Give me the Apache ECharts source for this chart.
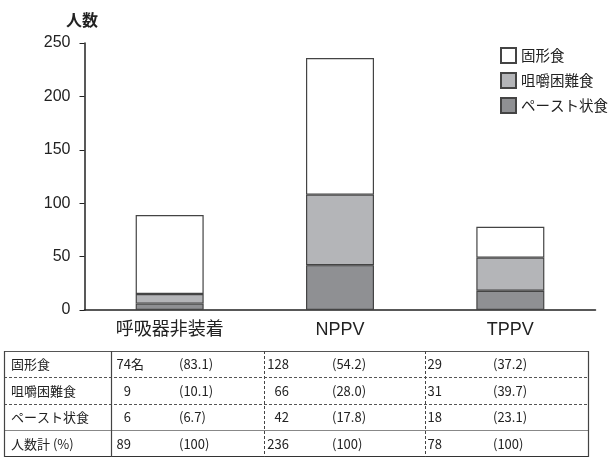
<!DOCTYPE html>
<html>
<head>
<meta charset="utf-8">
<script src="https://cdn.jsdelivr.net/npm/echarts@6/dist/echarts.min.js"></script>
<style>
  html, body { margin: 0; padding: 0; background: #fff; }
  #chart { width: 610px; height: 458px; }
</style>
</head>
<body>
<div id="chart"></div>
<script>
// 呼吸器の装着状況別にみた食形態の人数
const categories = ['呼吸器非装着', 'NPPV', 'TPPV'];
const yTicks = [0, 50, 100, 150, 200, 250];

const solidFood = [74, 128, 29];     // 固形食
const chewingDiet = [9, 66, 31];     // 咀嚼困難食
const pasteDiet = [6, 42, 18];       // ペースト状食
const totals = [89, 236, 78];        // 人数計

const solidPct = ['83.1', '54.2', '37.2'];
const chewingPct = ['10.1', '28.0', '39.7'];
const pastePct = ['6.7', '17.8', '23.1'];
const totalPct = ['100', '100', '100'];

const rowLabels = ['固形食', '咀嚼困難食', 'ペースト状食', '人数計 (%)'];
const seriesNames = ['固形食', '咀嚼困難食', 'ペースト状食'];

const chart = echarts.init(document.getElementById('chart'));

const AXIS = '#222';
const EDGE = '#444';
const font = '"Liberation Sans", Arial, "Noto Sans CJK JP", sans-serif';
const jpFont = '"Noto Sans CJK JP", sans-serif';

// ---- summary table below the chart ----
const tbl = { left: 4, right: 588, rows: [351, 377, 404, 430, 457], colLabel: 111, cols: [111, 264, 425] };
const numRight = [131, 289, 442];
const pctLeft = [179, 332, 493];
const tableRows = [
  { nums: solidFood, pct: solidPct, suffix: '名' },
  { nums: chewingDiet, pct: chewingPct },
  { nums: pasteDiet, pct: pastePct },
  { nums: totals, pct: totalPct }
];

const graphics = [];
function hline(y, x1, x2, stroke, dashed, w) {
  graphics.push({ type: 'line', silent: true, shape: { x1, y1: y, x2, y2: y },
    style: { stroke, lineWidth: w || 1, lineDash: dashed ? [3, 2] : null } });
}
function vline(x, y1, y2, stroke, dashed, w) {
  graphics.push({ type: 'line', silent: true, shape: { x1: x, y1, x2: x, y2 },
    style: { stroke, lineWidth: w || 1, lineDash: dashed ? [3, 2] : null } });
}
const r = tbl.rows;
hline(r[0] + 0.5, tbl.left, tbl.right, '#555', false, 1.2);
hline(r[1] + 0.5, tbl.left, tbl.right, '#555', true);
hline(r[2] + 0.5, tbl.left, tbl.right, '#555', true);
hline(r[3] + 0.5, tbl.left, tbl.right, '#888', false, 1.2);
hline(r[4] - 0.5, tbl.left, tbl.right, '#333', false, 1.2);
vline(tbl.left + 0.5, r[0], r[4], '#444', false, 1.2);
vline(tbl.right + 0.5, r[0], r[4], '#444', false, 1.2);
vline(tbl.colLabel + 0.5, r[0], r[4], '#444', false, 1.2);
vline(tbl.cols[1] + 0.5, r[0], r[4], '#444', true);
vline(tbl.cols[2] + 0.5, r[0], r[4], '#444', true);

const tStyle = { fill: '#222', fontSize: 13, fontFamily: jpFont, verticalAlign: 'middle' };
tableRows.forEach((row, i) => {
  const cy = (r[i] + r[i + 1]) / 2 + 0.5;
  graphics.push({ type: 'text', silent: true, x: 11, y: cy,
    style: Object.assign({}, tStyle, { text: rowLabels[i], align: 'left' }) });
  row.nums.forEach((v, j) => {
    graphics.push({ type: 'text', silent: true, x: numRight[j], y: cy,
      style: Object.assign({}, tStyle, { text: String(v), align: 'right' }) });
    if (row.suffix && j === 0) {
      graphics.push({ type: 'text', silent: true, x: numRight[j], y: cy,
        style: Object.assign({}, tStyle, { text: row.suffix, align: 'left' }) });
    }
    graphics.push({ type: 'text', silent: true, x: pctLeft[j], y: cy,
      style: Object.assign({}, tStyle, { text: '(' + row.pct[j] + ')', align: 'left' }) });
  });
});

// y-axis title
graphics.push({ type: 'text', silent: true, x: 82, y: 20,
  style: { text: '人数', fill: '#222', fontSize: 16, fontWeight: 'bold', fontFamily: jpFont,
    align: 'center', verticalAlign: 'middle' } });

const barBase = { type: 'bar', stack: 'total', barWidth: 68,
  emphasis: { disabled: true } };

chart.setOption({
  animation: false,
  backgroundColor: '#fff',
  grid: { left: 84.5, right: 14.5, top: 43, bottom: 148, containLabel: false },
  legend: {
    data: seriesNames,
    orient: 'vertical',
    left: 495, top: 42,
    itemWidth: 15, itemHeight: 15, itemGap: 8,
    icon: 'rect',
    textStyle: { fontSize: 14.5, color: '#222', fontFamily: jpFont },
    selectedMode: false
  },
  xAxis: {
    type: 'category',
    data: categories,
    axisLine: { lineStyle: { color: AXIS, width: 1.5 } },
    axisTick: { inside: true, length: 4, lineStyle: { color: AXIS } },
    axisLabel: { color: '#222', fontSize: 18, margin: 11, fontFamily: font }
  },
  yAxis: {
    type: 'value',
    min: yTicks[0], max: yTicks[yTicks.length - 1], interval: 50,
    splitLine: { show: false },
    axisLine: { show: true, lineStyle: { color: AXIS, width: 1.5 } },
    axisTick: { show: true, length: 5, lineStyle: { color: AXIS } },
    axisLabel: { color: '#222', fontSize: 16, margin: 14, fontFamily: font }
  },
  series: [
    Object.assign({}, barBase, { name: 'ペースト状食', data: pasteDiet,
      itemStyle: { color: '#8f9093', borderColor: EDGE, borderWidth: 1.2 } }),
    Object.assign({}, barBase, { name: '咀嚼困難食', data: chewingDiet,
      itemStyle: { color: '#b4b5b8', borderColor: EDGE, borderWidth: 1.2 } }),
    Object.assign({}, barBase, { name: '固形食', data: solidFood,
      itemStyle: { color: '#ffffff', borderColor: EDGE, borderWidth: 1.2 } })
  ],
  graphic: graphics
});
</script>
</body>
</html>
